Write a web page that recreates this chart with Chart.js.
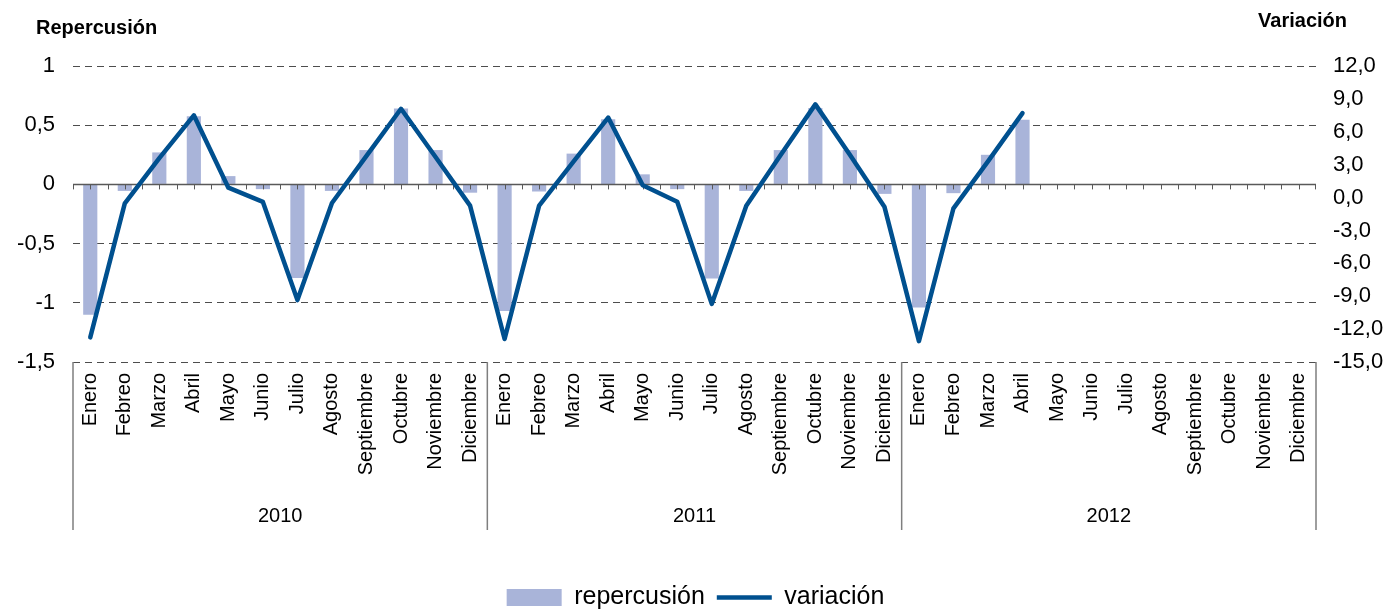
<!DOCTYPE html>
<html>
<head>
<meta charset="utf-8">
<script src="https://cdn.jsdelivr.net/npm/chart.js@4.4.1/dist/chart.umd.min.js"></script>
<style>
  html, body { margin: 0; padding: 0; background: #fff; }
  canvas { display: block; }
</style>
</head>
<body>
<canvas id="c" width="1391" height="610"></canvas>
<script>
// ---- data ----
const months = ['Enero','Febreo','Marzo','Abril','Mayo','Junio','Julio','Agosto','Septiembre','Octubre','Noviembre','Diciembre'];
const years = ['2010','2011','2012'];
const repercusion2010 = [-1.10, -0.055, 0.27, 0.575, 0.07, -0.04, -0.79, -0.055, 0.29, 0.64, 0.29, -0.07];
const repercusion2011 = [-1.07, -0.06, 0.26, 0.55, 0.085, -0.04, -0.795, -0.055, 0.29, 0.645, 0.29, -0.08];
const repercusion2012 = [-1.04, -0.074, 0.25, 0.547, null, null, null, null, null, null, null, null];
const variacion2010 = [-12.75, -0.53, 3.6, 7.5, 0.9, -0.4, -9.35, -0.5, 3.8, 8.1, 3.7, -0.74];
const variacion2011 = [-12.9, -0.74, 3.3, 7.3, 1.13, -0.38, -9.7, -0.74, 3.9, 8.5, 3.9, -0.83];
const variacion2012 = [-13.1, -0.98, 3.3, 7.7, null, null, null, null, null, null, null, null];
const leftTicks = { min: -1.5, max: 1, step: 0.5 };
const rightTicks = { min: -15, max: 12, step: 3 };

const labels = years.flatMap(() => months);
const repercusion = [...repercusion2010, ...repercusion2011, ...repercusion2012];
const variacion = [...variacion2010, ...variacion2011, ...variacion2012];

const FONT = '"Liberation Sans", Arial, Helvetica, sans-serif';
Chart.defaults.font.family = FONT;
Chart.defaults.color = '#000';

const decor = {
  id: 'decor',
  afterDatasetDraw(chart, args) {
    if (args.index !== 0) return;
    const { ctx, chartArea, scales: { x, y } } = chart;
    const y0 = y.getPixelForValue(0);
    const n = labels.length;
    const w = (chartArea.right - chartArea.left) / n;
    ctx.save();
    ctx.strokeStyle = '#595959';
    ctx.lineWidth = 1.5;
    ctx.beginPath();
    ctx.moveTo(chartArea.left, y0);
    ctx.lineTo(chartArea.right, y0);
    ctx.stroke();
    ctx.lineWidth = 1;
    ctx.beginPath();
    for (let i = 0; i < n; i++) {
      const c = x.getPixelForValue(i);
      [c - w / 2, c].forEach(px => {
        const p = Math.round(px) + 0.5;
        ctx.moveTo(p, y0);
        ctx.lineTo(p, y0 + 5);
      });
    }
    const pe = Math.round(x.getPixelForValue(n - 1) + w / 2) - 0.5;
    ctx.moveTo(pe, y0);
    ctx.lineTo(pe, y0 + 5);
    ctx.stroke();
    ctx.restore();
  },
  afterDraw(chart) {
    const { ctx, chartArea, scales: { x } } = chart;
    const n = labels.length;
    const w = (chartArea.right - chartArea.left) / n;
    ctx.save();
    // group separators
    ctx.strokeStyle = '#7f7f7f';
    ctx.lineWidth = 1.5;
    ctx.beginPath();
    for (let g = 0; g <= years.length; g++) {
      const idx = Math.min(g * months.length, n - 1);
      let px = x.getPixelForValue(idx) + (g * months.length >= n ? w / 2 : -w / 2);
      ctx.moveTo(px, chartArea.bottom);
      ctx.lineTo(px, 530);
    }
    ctx.stroke();
    // year labels
    ctx.fillStyle = '#000';
    ctx.font = '20px ' + FONT;
    ctx.textAlign = 'center';
    ctx.textBaseline = 'middle';
    years.forEach((yr, g) => {
      const a = x.getPixelForValue(g * months.length) - w / 2;
      const b = x.getPixelForValue(g * months.length + months.length - 1) + w / 2;
      ctx.fillText(yr, (a + b) / 2, 516);
    });
    // axis titles
    ctx.font = 'bold 20px ' + FONT;
    ctx.textAlign = 'left';
    ctx.fillText('Repercusión', 36, 28);
    ctx.textAlign = 'right';
    ctx.fillText('Variación', 1347, 21);
    ctx.restore();
  }
};

const fmtLeft = v => (v === 0 ? '0' : String(v).replace('.', ','));
const fmtRight = v => v.toFixed(1).replace('.', ',');

new Chart(document.getElementById('c'), {
  data: {
    labels,
    datasets: [
      {
        type: 'bar',
        label: 'repercusión',
        data: repercusion,
        yAxisID: 'y',
        backgroundColor: '#A9B4D9',
        borderWidth: 0,
        barPercentage: 0.41,
        categoryPercentage: 1,
        order: 2
      },
      {
        type: 'line',
        label: 'variación',
        data: variacion,
        yAxisID: 'y2',
        borderColor: '#00508F',
        backgroundColor: '#00508F',
        borderWidth: 4.5,
        pointRadius: 0,
        pointHoverRadius: 0,
        tension: 0,
        borderCapStyle: 'round',
        borderJoinStyle: 'round',
        spanGaps: false,
        order: 1
      }
    ]
  },
  options: {
    responsive: false,
    devicePixelRatio: 1,
    animation: false,
    events: [],
    layout: { padding: { top: 66, left: 0, right: 0, bottom: -10 } },
    scales: {
      x: {
        type: 'category',
        offset: true,
        grid: { display: false, drawTicks: false },
        border: { display: false },
        ticks: {
          autoSkip: false,
          minRotation: 90,
          maxRotation: 90,
          padding: 11,
          font: { size: 20 },
          color: '#000'
        },
        afterFit(scale) { scale.height = 211; }
      },
      y: {
        position: 'left',
        min: leftTicks.min,
        max: leftTicks.max,
        ticks: {
          stepSize: leftTicks.step,
          callback: fmtLeft,
          font: { size: 22 },
          color: '#000',
          padding: 18
        },
        grid: {
          color: c => (c.tick && c.tick.value === 0 ? 'rgba(0,0,0,0)' : '#4d4d4d'),
          lineWidth: 1,
          drawTicks: false
        },
        border: { display: false, dash: [7, 5] },
        afterFit(scale) { scale.width = 73; }
      },
      y2: {
        position: 'right',
        min: rightTicks.min,
        max: rightTicks.max,
        ticks: {
          stepSize: rightTicks.step,
          callback: fmtRight,
          font: { size: 22 },
          color: '#000',
          padding: 17
        },
        grid: { display: false, drawTicks: false },
        border: { display: false },
        afterFit(scale) { scale.width = 75; }
      }
    },
    plugins: {
      tooltip: { enabled: false },
      legend: {
        position: 'bottom',
        labels: {
          usePointStyle: true,
          pointStyleWidth: 55,
          boxHeight: 17,
          padding: 12,
          font: { size: 25 },
          color: '#000',
          sort: (a, b) => a.datasetIndex - b.datasetIndex,
          generateLabels(chart) {
            const items = Chart.defaults.plugins.legend.labels.generateLabels(chart);
            items.forEach(it => {
              it.pointStyle = it.datasetIndex === 0 ? 'rect' : 'line';
              if (it.datasetIndex === 0) it.lineWidth = 0;
            });
            return items;
          }
        }
      }
    }
  },
  plugins: [decor]
});
</script>
</body>
</html>
